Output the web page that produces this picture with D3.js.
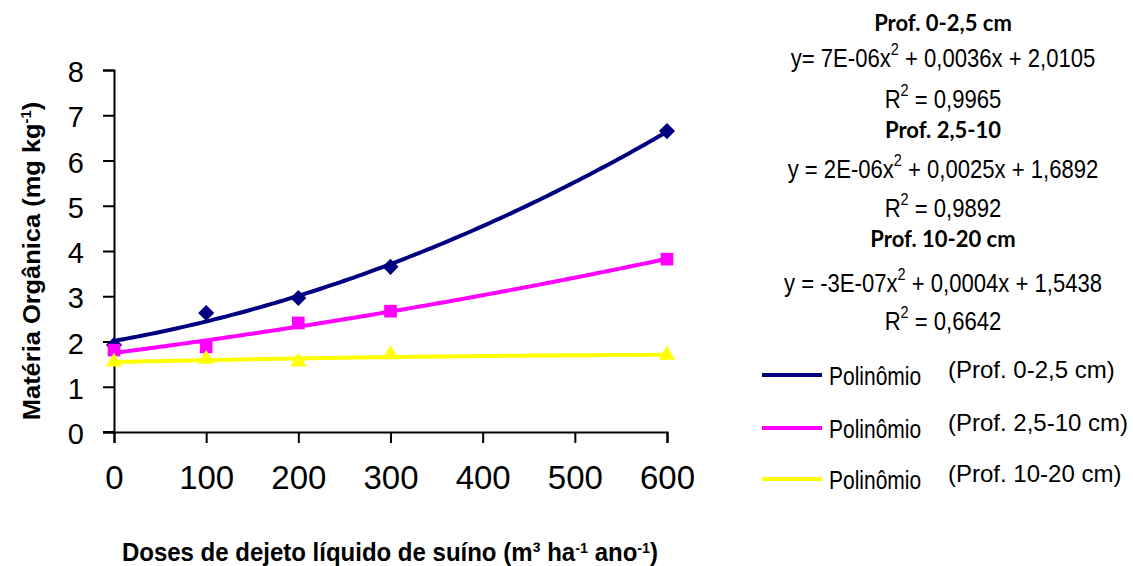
<!DOCTYPE html>
<html>
<head>
<meta charset="utf-8">
<script src="https://cdn.jsdelivr.net/npm/d3@7"></script>
<style>
  html, body { margin: 0; padding: 0; background: #fff; }
  svg { display: block; font-family: "Liberation Sans", Arial, sans-serif; }
  text { fill: #000; }
</style>
</head>
<body>
<svg id="chart" width="1133" height="566"></svg>
<script>
// ---- data ----
const doses = [0, 100, 200, 300, 600];
const depth0_25 = [1.92, 2.63, 2.96, 3.65, 6.65];   // Prof. 0-2,5 cm
const depth25_10 = [1.81, 1.88, 2.41, 2.67, 3.82];  // Prof. 2,5-10 cm
const depth10_20 = [1.55, 1.61, 1.55, 1.71, 1.70];  // Prof. 10-20 cm
const xTicks = [0, 100, 200, 300, 400, 500, 600];
const yTicks = [0, 1, 2, 3, 4, 5, 6, 7, 8];
const seriesNames = ["(Prof. 0-2,5 cm)", "(Prof. 2,5-10 cm)", "(Prof. 10-20 cm)"];
const seriesColors = ["#000080", "#FF00FF", "#FFFF00"];
const seriesShapes = ["diamond", "square", "triangle"];
const eqTitles = ["Prof. 0-2,5 cm", "Prof. 2,5-10", "Prof. 10-20 cm"];
const eqA = ["y= 7E-06x", "y  = 2E-06x", "y  = -3E-07x"];
const eqB = [" + 0,0036x  + 2,0105", " + 0,0025x  + 1,6892", " + 0,0004x  + 1,5438"];
const r2 = ["0,9965", "0,9892", "0,6642"];

const series = [depth0_25, depth25_10, depth10_20];

// quadratic least-squares fit of the measured points
function quadFit(xs, ys) {
  let S = [0,0,0,0,0], T = [0,0,0];
  xs.forEach((x, i) => {
    for (let k = 0; k < 5; k++) S[k] += Math.pow(x, k);
    for (let k = 0; k < 3; k++) T[k] += ys[i] * Math.pow(x, k);
  });
  const M = [[S[0],S[1],S[2],T[0]],[S[1],S[2],S[3],T[1]],[S[2],S[3],S[4],T[2]]];
  for (let i = 0; i < 3; i++) {
    let p = M[i][i];
    for (let j = i; j < 4; j++) M[i][j] /= p;
    for (let r = 0; r < 3; r++) if (r !== i) {
      const f = M[r][i];
      for (let j = i; j < 4; j++) M[r][j] -= f * M[i][j];
    }
  }
  return [M[0][3], M[1][3], M[2][3]];
}

const svg = d3.select("#chart");
const x = d3.scaleLinear().domain([0, 600]).range([114, 667]);
const y = d3.scaleLinear().domain([0, 8]).range([432, 70]);

// axes
const yAxis = svg.append("g").attr("transform", `translate(${x(0)},0)`)
  .call(d3.axisLeft(y).tickValues(yTicks).tickSize(11).tickPadding(19).tickFormat(d3.format("d")));
const xAxis = svg.append("g").attr("transform", `translate(0,${y(0)})`)
  .call(d3.axisBottom(x).tickValues(xTicks).tickSize(11).tickPadding(22).tickFormat(d3.format("d")));
[yAxis, xAxis].forEach(g => {
  g.select(".domain").attr("stroke", "#000").attr("stroke-width", 2);
  g.selectAll(".tick line").attr("stroke", "#000").attr("stroke-width", 2);
  g.selectAll(".tick text").style("font-family", "Liberation Sans, Arial, sans-serif").attr("fill", "#000");
});
yAxis.selectAll(".tick text").attr("font-size", 29).attr("dy", "0.4em");
xAxis.selectAll(".tick text").attr("font-size", 33).attr("dy", "0.72em");
svg.append("line").attr("x1", x(0) - 11).attr("x2", x(0)).attr("y1", y(0)).attr("y2", y(0))
  .attr("stroke", "#000").attr("stroke-width", 2);

// axis titles
svg.append("text")
  .attr("transform", `translate(40,${(y(0) + y(8)) / 2 + 10}) rotate(-90) scale(1.06,1)`)
  .attr("text-anchor", "middle").attr("font-size", 24).attr("font-weight", "bold")
  .call(t => {
    t.append("tspan").text("Matéria Orgânica (mg kg");
    t.append("tspan").text("-1").attr("font-size", 14).attr("dy", -9);
    t.append("tspan").text(")").attr("dy", 9);
  });

svg.append("text")
  .attr("transform", "translate(390,561) scale(0.96,1)")
  .attr("text-anchor", "middle").attr("font-size", 25).attr("font-weight", "bold")
  .call(t => {
    t.append("tspan").text("Doses de dejeto líquido de suíno (m³ ha");
    t.append("tspan").text("-1").attr("font-size", 15).attr("dy", -8);
    t.append("tspan").text(" ano").attr("dy", 8);
    t.append("tspan").text("-1").attr("font-size", 15).attr("dy", -8);
    t.append("tspan").text(")").attr("dy", 8);
  });

// trend lines (quadratic fits)
const xs = d3.range(0, 601, 5);
series.forEach((vals, i) => {
  const c = quadFit(doses, vals);
  const line = d3.line().x(d => x(d)).y(d => y(c[0] + c[1] * d + c[2] * d * d));
  svg.append("path").datum(xs).attr("d", line)
    .attr("fill", "none").attr("stroke", seriesColors[i]).attr("stroke-width", 4);
});

// markers
const symbolType = { diamond: d3.symbolSquare, square: d3.symbolSquare, triangle: d3.symbolTriangle };
const symbolSize = { diamond: 130, square: 160, triangle: 115 };
const symbolRot = { diamond: 45, square: 0, triangle: 0 };
series.forEach((vals, i) => {
  const shp = seriesShapes[i];
  const sym = d3.symbol().type(symbolType[shp]).size(symbolSize[shp]);
  svg.append("g").selectAll("path").data(doses).join("path")
    .attr("transform", (d, j) => `translate(${x(d)},${y(vals[j])}) rotate(${symbolRot[shp]})`)
    .attr("d", sym).attr("fill", seriesColors[i]);
});

// equations block
const eqCx = 943;
const titleY = [31, 138, 247];
const eqY = [67, 178, 292];
const r2Y = [108, 217, 330];

for (let i = 0; i < 3; i++) {
  svg.append("text").attr("x", eqCx).attr("y", titleY[i]).attr("text-anchor", "middle")
    .style("font-family", "Lato, 'Open Sans', sans-serif").attr("font-weight", "bold").attr("font-size", 22)
    .text(eqTitles[i]);
  svg.append("text").attr("transform", `translate(${eqCx},${eqY[i]}) scale(0.85,1)`)
    .attr("text-anchor", "middle").attr("font-size", 26)
    .call(t => {
      t.append("tspan").text(eqA[i]);
      t.append("tspan").text("2").attr("font-size", 17).attr("dy", -12);
      t.append("tspan").text(eqB[i]).attr("dy", 12);
    });
  svg.append("text").attr("transform", `translate(${eqCx},${r2Y[i]}) scale(0.85,1)`)
    .attr("text-anchor", "middle").attr("font-size", 26)
    .call(t => {
      t.append("tspan").text("R");
      t.append("tspan").text("2").attr("font-size", 17).attr("dy", -12);
      t.append("tspan").text(" = " + r2[i]).attr("dy", 12);
    });
}

// legend
const legY = [375, 428, 479];
seriesNames.forEach((name, i) => {
  svg.append("line").attr("x1", 762).attr("x2", 822).attr("y1", legY[i]).attr("y2", legY[i])
    .attr("stroke", seriesColors[i]).attr("stroke-width", 4);
  svg.append("text").attr("transform", `translate(829,${legY[i] + 10}) scale(0.84,1)`)
    .attr("font-size", 25).text("Polinômio");
  svg.append("text").attr("x", 948).attr("y", legY[i] + 3)
    .attr("font-size", 24).text(name);
});
</script>
</body>
</html>
